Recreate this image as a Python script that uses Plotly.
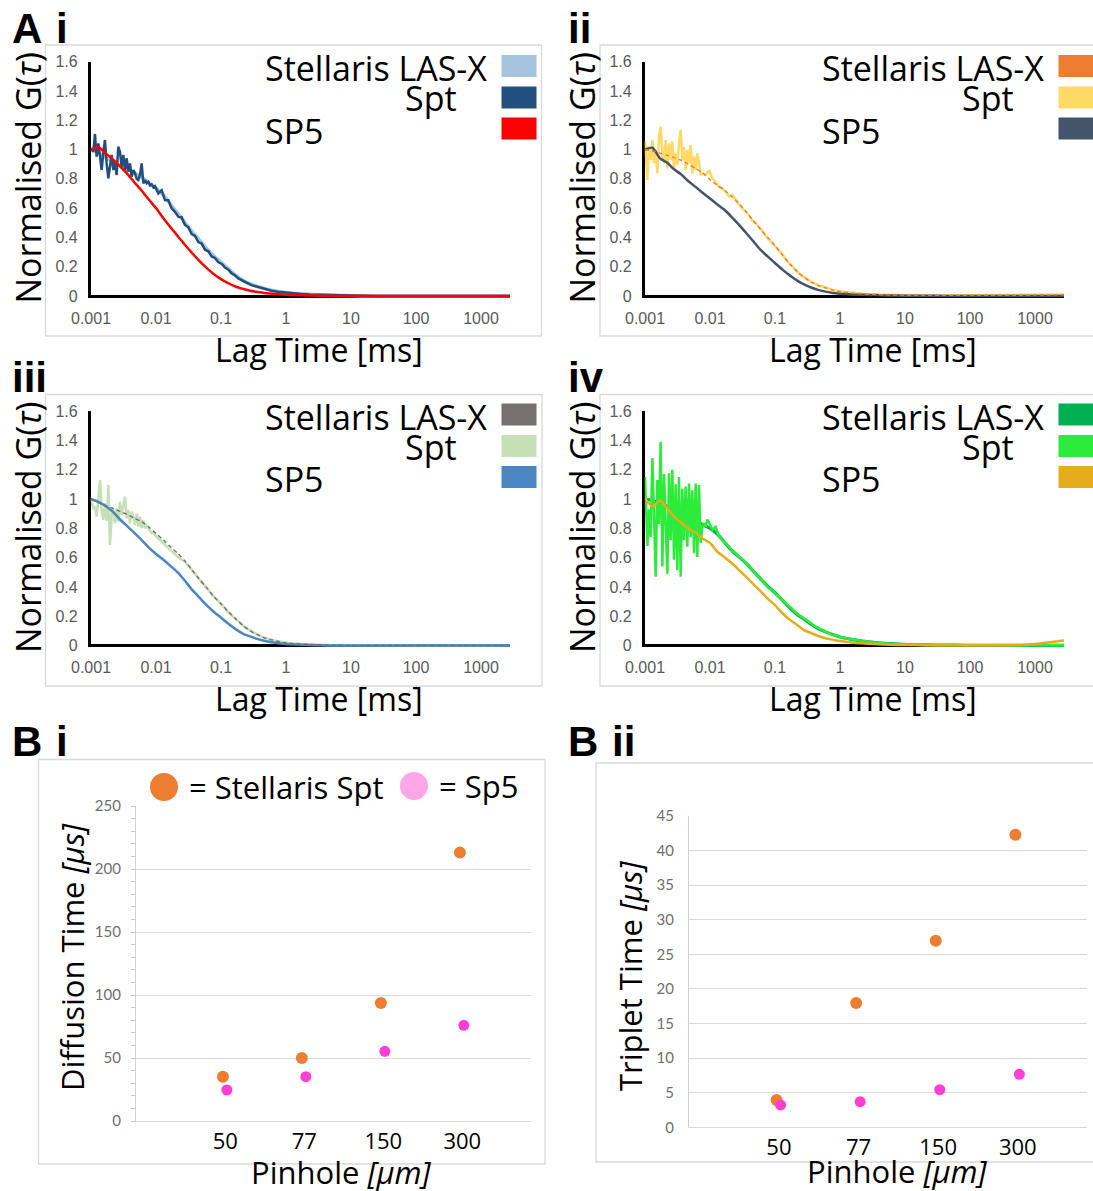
import plotly.graph_objects as go

# ---------------------------------------------------------------------------
# FCS autocorrelation curves (normalised G(tau)) against lag time in ms
# ---------------------------------------------------------------------------
lag_ms = [
    0.001, 0.00109, 0.00115, 0.00122, 0.0013, 0.00138, 0.00146, 0.00155, 0.00164, 0.00174,
    0.00185, 0.00196, 0.00208, 0.00221, 0.00234, 0.00248, 0.00263, 0.00279, 0.00296, 0.00314,
    0.00333, 0.00354, 0.00375, 0.00398, 0.00422, 0.00448, 0.00475, 0.00504, 0.00535, 0.00568,
    0.00602, 0.00638, 0.00677, 0.00718, 0.00762, 0.00808, 0.00857, 0.0091, 0.00966, 0.01086,
    0.01222, 0.01375, 0.0155, 0.0174, 0.0196, 0.0221, 0.0248, 0.0279, 0.0314, 0.0354,
    0.0398, 0.0448, 0.0504, 0.0567, 0.0638, 0.0718, 0.0808, 0.091, 0.103, 0.115,
    0.13, 0.146, 0.165, 0.185, 0.21, 0.234, 0.265, 0.296, 0.35, 0.423,
    0.5, 0.6, 0.75, 0.966, 1.3, 1.74, 2.3, 3.0, 4.5, 6.5,
    10, 15, 25, 40, 70, 120, 200, 350, 600, 1000,
    1700, 2800,
]
lag_ms_coarse = [
    0.001, 0.0013, 0.0017, 0.0022, 0.0028, 0.0036, 0.0046, 0.006, 0.0077, 0.01,
    0.013, 0.017, 0.022, 0.028, 0.036, 0.046, 0.06, 0.077, 0.1, 0.13,
    0.17, 0.22, 0.28, 0.36, 0.46, 0.6, 0.77, 1.0, 1.5, 2.2,
    3.5, 5, 8, 15, 30, 60, 120, 250, 500, 1000,
    1700, 2800,
]

# A i
ai_lasx = [
    1.0, 0.975, 0.945, 0.915, 0.89, 0.865, 0.84, 0.81, 0.775, 0.735,
    0.69, 0.62, 0.56, 0.5, 0.44, 0.385, 0.325, 0.275, 0.23, 0.185,
    0.14, 0.105, 0.082, 0.065, 0.052, 0.04, 0.031, 0.024, 0.016, 0.012,
    0.008, 0.005, 0.003, 0.001, 0.0, 0.0, 0.0, 0.0, 0.0, 0.0,
    0.0, 0.0,
]
ai_spt = [
    1.008, 0.985, 1.106, 0.951, 1.042, 0.939, 0.86, 0.985, 1.065, 0.905,
    0.803, 0.883, 0.963, 0.86, 0.917, 0.826, 1.019, 0.985, 0.883, 0.963,
    0.86, 0.94, 0.849, 0.905, 0.815, 0.86, 0.838, 0.8, 0.792, 0.83,
    0.905, 0.769, 0.792, 0.77, 0.78, 0.755, 0.762, 0.742, 0.75, 0.701,
    0.722, 0.655, 0.654, 0.598, 0.574, 0.54, 0.538, 0.485, 0.47, 0.422,
    0.41, 0.368, 0.358, 0.316, 0.305, 0.27, 0.26, 0.23, 0.219, 0.194,
    0.18, 0.154, 0.14, 0.12, 0.107, 0.092, 0.085, 0.074, 0.064, 0.052,
    0.044, 0.036, 0.029, 0.023, 0.017, 0.014, 0.011, 0.009, 0.006, 0.004,
    0.002, 0.001, 0.0, 0.001, 0.0, 0.001, 0.0, 0.0, 0.001, 0.0,
    0.0, 0.0,
]
ai_sp5 = [
    1.0, 1.015, 0.972, 0.93, 0.885, 0.835, 0.778, 0.72, 0.66, 0.6,
    0.53, 0.465, 0.405, 0.348, 0.293, 0.242, 0.192, 0.15, 0.115, 0.087,
    0.063, 0.048, 0.036, 0.028, 0.021, 0.016, 0.012, 0.009, 0.006, 0.004,
    0.002, 0.001, 0.0, 0.0, 0.0, 0.0, 0.0, 0.0, 0.0, 0.0,
    0.0, 0.0,
]

# A ii
aii_lasx = [
    1.0, 0.99, 0.975, 0.96, 0.945, 0.925, 0.9, 0.87, 0.84, 0.795,
    0.755, 0.72, 0.675, 0.63, 0.575, 0.515, 0.455, 0.4, 0.345, 0.28,
    0.218, 0.165, 0.128, 0.095, 0.072, 0.055, 0.041, 0.031, 0.021, 0.015,
    0.01, 0.008, 0.006, 0.005, 0.004, 0.004, 0.004, 0.004, 0.005, 0.006,
    0.007, 0.008,
]
aii_spt = [
    1.06, 0.792, 1.019, 0.928, 1.065, 0.906, 0.997, 0.837, 1.088, 1.156,
    0.974, 0.906, 1.065, 0.871, 1.042, 0.928, 1.054, 0.86, 0.974, 0.894,
    1.042, 1.133, 0.928, 1.019, 0.86, 0.997, 0.906, 1.031, 0.837, 0.951,
    0.86, 0.974, 0.906, 0.826, 0.837, 0.83, 0.826, 0.84, 0.86, 0.803,
    0.78, 0.746, 0.735, 0.712, 0.678, 0.69, 0.655, 0.625, 0.6, 0.575,
    0.55, 0.515, 0.5, 0.47, 0.445, 0.41, 0.385, 0.36, 0.335, 0.31,
    0.285, 0.25, 0.225, 0.2, 0.18, 0.155, 0.135, 0.125, 0.1, 0.08,
    0.068, 0.058, 0.043, 0.032, 0.024, 0.018, 0.013, 0.01, 0.008, 0.006,
    0.005, 0.004, 0.004, 0.003, 0.004, 0.004, 0.005, 0.005, 0.006, 0.007,
    0.009, 0.011,
]
aii_sp5 = [
    1.0, 1.012, 0.94, 0.91, 0.865, 0.83, 0.785, 0.745, 0.705, 0.665,
    0.625, 0.585, 0.535, 0.485, 0.43, 0.375, 0.315, 0.27, 0.225, 0.18,
    0.14, 0.105, 0.08, 0.058, 0.042, 0.03, 0.021, 0.016, 0.011, 0.008,
    0.006, 0.004, 0.003, 0.002, 0.001, 0.0, 0.0, 0.0, 0.0, 0.0,
    0.0, 0.0,
]

# A iii
aiii_lasx = [
    1.0, 0.975, 0.955, 0.935, 0.915, 0.895, 0.87, 0.845, 0.81, 0.765,
    0.72, 0.67, 0.625, 0.575, 0.515, 0.455, 0.395, 0.335, 0.285, 0.23,
    0.18, 0.135, 0.1, 0.075, 0.052, 0.038, 0.027, 0.018, 0.011, 0.007,
    0.004, 0.002, 0.001, 0.0, 0.0, 0.0, 0.0, 0.0, 0.0, 0.0,
    0.0, 0.0,
]
aiii_spt = [
    1.004, 0.93, 0.95, 0.88, 1.0, 1.13, 0.92, 0.857, 0.97, 0.85,
    1.095, 0.686, 0.89, 0.93, 0.834, 0.936, 0.845, 0.98, 0.89, 0.96,
    1.016, 0.868, 0.925, 0.834, 0.913, 0.879, 0.822, 0.9, 0.811, 0.88,
    0.8, 0.857, 0.8, 0.82, 0.8, 0.79, 0.766, 0.775, 0.754, 0.732,
    0.709, 0.686, 0.663, 0.64, 0.618, 0.6, 0.585, 0.572, 0.545, 0.52,
    0.49, 0.46, 0.435, 0.41, 0.38, 0.35, 0.325, 0.3, 0.275, 0.255,
    0.23, 0.205, 0.185, 0.165, 0.145, 0.125, 0.11, 0.095, 0.078, 0.06,
    0.049, 0.038, 0.029, 0.02, 0.014, 0.01, 0.007, 0.005, 0.003, 0.002,
    0.001, 0.0, 0.0, 0.0, 0.0, 0.0, 0.0, 0.0, 0.0, 0.0,
    0.0, 0.0,
]
aiii_sp5 = [
    1.0, 0.98, 0.95, 0.91, 0.86, 0.815, 0.77, 0.72, 0.67, 0.625,
    0.585, 0.54, 0.495, 0.44, 0.38, 0.33, 0.275, 0.23, 0.19, 0.148,
    0.11, 0.08, 0.062, 0.045, 0.032, 0.022, 0.015, 0.01, 0.006, 0.003,
    0.001, 0.0, 0.0, 0.0, 0.0, 0.0, 0.0, 0.0, 0.0, 0.0,
    0.0, 0.0,
]

# A iv
aiv_lasx = [
    1.0, 0.99, 0.97, 0.95, 0.93, 0.905, 0.88, 0.85, 0.825, 0.8,
    0.76, 0.7, 0.645, 0.605, 0.56, 0.51, 0.455, 0.405, 0.36, 0.31,
    0.255, 0.21, 0.18, 0.145, 0.115, 0.093, 0.075, 0.058, 0.042, 0.03,
    0.02, 0.014, 0.009, 0.005, 0.003, 0.002, 0.001, 0.001, 0.001, 0.001,
    0.001, 0.001,
]
aiv_spt = [
    1.15, 0.68, 0.93, 0.74, 1.28, 0.9, 0.47, 1.13, 0.83, 1.39,
    0.54, 1.17, 0.79, 0.49, 1.175, 0.72, 1.2, 0.585, 1.1, 0.515,
    1.15, 0.47, 1.07, 0.72, 1.085, 0.675, 1.105, 0.74, 1.06, 0.63,
    1.105, 0.605, 1.095, 0.7, 0.81, 0.835, 0.81, 0.86, 0.84, 0.79,
    0.81, 0.745, 0.72, 0.7, 0.675, 0.64, 0.63, 0.605, 0.59, 0.56,
    0.545, 0.515, 0.49, 0.46, 0.44, 0.413, 0.39, 0.379, 0.35, 0.333,
    0.31, 0.288, 0.265, 0.242, 0.225, 0.208, 0.19, 0.174, 0.155, 0.129,
    0.11, 0.094, 0.075, 0.06, 0.048, 0.037, 0.03, 0.023, 0.016, 0.011,
    0.008, 0.005, 0.004, 0.003, 0.004, 0.002, 0.003, 0.002, 0.002, 0.001,
    0.001, 0.001,
]
aiv_sp5 = [
    1.005, 0.95, 0.99, 0.935, 0.88, 0.84, 0.8, 0.77, 0.73, 0.7,
    0.64, 0.6, 0.56, 0.515, 0.468, 0.42, 0.37, 0.32, 0.275, 0.22,
    0.175, 0.14, 0.105, 0.085, 0.065, 0.049, 0.04, 0.031, 0.021, 0.015,
    0.01, 0.006, 0.004, 0.003, 0.002, 0.002, 0.002, 0.002, 0.002, 0.01,
    0.022, 0.034,
]

lag_tick_ms = [0.001, 0.01, 0.1, 1, 10, 100, 1000]
lag_tick_text = ["0.001", "0.01", "0.1", "1", "10", "100", "1000"]
g_ticks = [0, 0.2, 0.4, 0.6, 0.8, 1.0, 1.2, 1.4, 1.6]
g_tick_text = ["0", "0.2", "0.4", "0.6", "0.8", "1", "1.2", "1.4", "1.6"]
legend_labels = ["Stellaris LAS-X", "Spt", "SP5"]

# ---------------------------------------------------------------------------
# Fitted diffusion and triplet times against pinhole size
# ---------------------------------------------------------------------------
pinhole_um = ["50", "77", "150", "300"]
diffusion_us_stellaris_spt = [35.2, 50.0, 93.7, 213.0]
diffusion_us_sp5 = [24.6, 35.2, 55.3, 75.9]
triplet_us_stellaris_spt = [3.95, 17.97, 26.97, 42.3]
triplet_us_sp5 = [3.23, 3.7, 5.44, 7.66]
diffusion_ticks = [0, 50, 100, 150, 200, 250]
triplet_ticks = [0, 5, 10, 15, 20, 25, 30, 35, 40, 45]

# ---------------------------------------------------------------------------
W, H = 1093, 1191
TEXT_FONT = "Open Sans"
TICK_FONT = "Liberation Sans, Arial"
DECADE_PX = 65.0
G_PX = 146.5


def fx(p):
    return p / W


def fy(p):
    return 1 - p / H


def ax_names(k):
    s = "" if k == 1 else str(k)
    return "x" + s, "y" + s, "xaxis" + s, "yaxis" + s


fig = go.Figure()
layout = dict(
    width=W, height=H, autosize=False,
    margin=dict(l=0, r=0, t=0, b=0, pad=0, autoexpand=False),
    paper_bgcolor="white", plot_bgcolor="rgba(0,0,0,0)", showlegend=False,
)
shapes = []
annotations = []


def text(x, y, s, size, xanchor="left", angle=0, family=TEXT_FONT, color="#000000"):
    annotations.append(dict(
        x=fx(x), y=fy(y), xref="paper", yref="paper", text=s, showarrow=False,
        xanchor=xanchor, yanchor="middle", textangle=angle, borderpad=0,
        font=dict(family=family, size=size, color=color),
    ))


def frame(x0, y0, x1, y1):
    shapes.append(dict(type="rect", xref="paper", yref="paper",
                       x0=fx(x0), x1=fx(x1), y0=fy(y1), y1=fy(y0),
                       line=dict(color="#D9D9D9", width=1.3),
                       fillcolor="rgba(0,0,0,0)", layer="below"))


def swatch(x0, y0, x1, y1, color, kind="rect"):
    shapes.append(dict(type=kind, xref="paper", yref="paper",
                       x0=fx(x0), x1=fx(x1), y0=fy(y1), y1=fy(y0),
                       line=dict(width=0), fillcolor=color, layer="above"))


# Panel A: four correlation plots
# each series: (lag, values, colour, width, drawn as thin broken overlay)
panels_a = [
    dict(ax_x=91, zero=296, frame=(45.5, 45, 541.5, 336), leg_dx=0, leg_dy=0,
         series=[
             (lag_ms_coarse, ai_lasx, "#A7C4DF", 3.6, False),
             (lag_ms, ai_spt, "#22507E", 2.5, False),
             (lag_ms_coarse, ai_sp5, "#FF0000", 2.5, False),
         ]),
    dict(ax_x=645, zero=296, frame=(600, 45, 1110, 336), leg_dx=557, leg_dy=0,
         series=[
             (lag_ms_coarse, aii_lasx, "#ED7D31", 2.5, True),
             (lag_ms, aii_spt, "#FFD966", 2.5, False),
             (lag_ms_coarse, aii_sp5, "#44546A", 2.5, False),
         ]),
    dict(ax_x=91, zero=645.5, frame=(45.5, 394.5, 542, 686), leg_dx=0, leg_dy=348.5,
         series=[
             (lag_ms_coarse, aiii_lasx, "#767171", 2.5, True),
             (lag_ms, aiii_spt, "#C5E0B4", 2.5, False),
             (lag_ms_coarse, aiii_sp5, "#4A86C2", 2.5, False),
         ]),
    dict(ax_x=645, zero=645.5, frame=(600, 394.5, 1110, 686), leg_dx=557, leg_dy=348.5,
         series=[
             (lag_ms_coarse, aiv_lasx, "#00B050", 3.2, False),
             (lag_ms, aiv_spt, "#2CEB3A", 2.5, False),
             (lag_ms_coarse, aiv_sp5, "#E5AC1C", 2.5, False),
         ]),
]


def curve_line(lag, color, width, dash="solid"):
    # the coarse (smooth) curves are drawn as splines, the dense noisy ones straight
    if lag is lag_ms_coarse:
        return dict(color=color, width=width, dash=dash, shape="spline", smoothing=0.7)
    return dict(color=color, width=width, dash=dash)


for k, p in enumerate(panels_a, start=1):
    xr, yr, xk, yk = ax_names(k)
    left = p["ax_x"] - 0.005 * DECADE_PX
    layout[xk] = dict(
        type="log", domain=[fx(left), fx(left + 6.457 * DECADE_PX)], range=[-3.005, 3.452],
        anchor=yr, showgrid=False, zeroline=False, showline=False, ticks="",
        tickmode="array", tickvals=lag_tick_ms, ticktext=lag_tick_text,
        tickfont=dict(family=TICK_FONT, size=16, color="#595959"),
        ticklabelstandoff=9, fixedrange=True, automargin=False,
    )
    z = p["zero"]
    layout[yk] = dict(
        domain=[fy(z + 0.012 * G_PX), fy(z - 1.6 * G_PX)], range=[-0.012, 1.6],
        anchor=xr, showgrid=False, zeroline=True, zerolinecolor="#000000", zerolinewidth=2.5,
        showline=True, linecolor="#000000", linewidth=2.5, layer="below traces",
        ticks="", tickmode="array", tickvals=g_ticks, ticktext=g_tick_text,
        tickfont=dict(family=TICK_FONT, size=16, color="#595959"),
        ticklabelstandoff=7, fixedrange=True, automargin=False,
    )

    overlays = []
    for lag, vals, color, width, overlay in p["series"]:
        if overlay:
            overlays.append((lag, vals, color))
            continue
        fig.add_trace(go.Scatter(x=lag, y=vals, mode="lines", xaxis=xr, yaxis=yr,
                                 line=curve_line(lag, color, width), hoverinfo="skip"))
    # the LAS-X trace shows through the noisy Spt trace as a thin broken line
    for lag, vals, color in overlays:
        fig.add_trace(go.Scatter(x=lag, y=vals, mode="lines", xaxis=xr, yaxis=yr,
                                 line=curve_line(lag, color, 1.4, "4px,3px"),
                                 hoverinfo="skip"))

    frame(*p["frame"])
    dx, dy = p["leg_dx"], p["leg_dy"]
    text(264 + dx, 68 + dy, legend_labels[0], 34)
    text(404 + dx, 98.5 + dy, legend_labels[1], 34)
    text(264 + dx, 130.5 + dy, legend_labels[2], 34)
    colors = [s[2] for s in p["series"]]
    for i, (t0, t1) in enumerate([(55, 77), (86.5, 108.5), (117.5, 139.5)]):
        swatch(501.5 + dx, t0 + dy, 536.5 + dx, t1 + dy, colors[i])

    text(p["ax_x"] + 228, z + 53, "Lag Time [ms]", 32, xanchor="center")
    text(p["ax_x"] - 63, z - 118.5, "Normalised G(<i>τ</i>)", 34, xanchor="center", angle=-90)

# panel tags: (x, y, text)
TAG_FONT = "Liberation Sans, Arial"
panel_tags = [
    (11, 29, "A"), (55, 29, "i"), (567, 29, "ii"),
    (11, 377, "iii"), (567, 377, "iv"),
    (11, 741, "B"), (55, 741, "i"), (567, 741, "B"), (611, 741, "ii"),
]
for tx, ty, tt in panel_tags:
    text(tx, ty, "<b>" + tt + "</b>", 42, family=TAG_FONT)

# Panel B: diffusion time and triplet time
cat_pos = [i + 1 for i in range(len(pinhole_um))]
sp5_nudge = 0.05
panels_b = [
    dict(xdom=(136, 531), ydom=(806, 1121), yrange=[0, 250], ticks=diffusion_ticks,
         spt=diffusion_us_stellaris_spt, sp5=diffusion_us_sp5, minor=True,
         frame=(38.5, 759.5, 545, 1164), ytitle="Diffusion Time <i>[μs]</i>",
         ytitle_xy=(72, 957), xtitle_xy=(341, 1172)),
    dict(xdom=(689, 1087), ydom=(816, 1127.3), yrange=[0, 45], ticks=triplet_ticks,
         spt=triplet_us_stellaris_spt, sp5=triplet_us_sp5, minor=False,
         frame=(596, 763, 1110, 1162), ytitle="Triplet Time <i>[μs]</i>",
         ytitle_xy=(630, 976), xtitle_xy=(897, 1171)),
]

for j, b in enumerate(panels_b, start=5):
    xr, yr, xk, yk = ax_names(j)
    layout[xk] = dict(
        domain=[fx(b["xdom"][0]), fx(b["xdom"][1])], range=[-0.1, 4.9], anchor=yr,
        showgrid=False, zeroline=False, showline=True, linecolor="#D9D9D9", linewidth=1.3,
        ticks="", tickmode="array", tickvals=[c + 0.03 for c in cat_pos], ticktext=pinhole_um,
        tickfont=dict(family=TEXT_FONT, size=22, color="#000000"), ticklabelstandoff=0,
        fixedrange=True, automargin=False,
    )
    ya = dict(
        domain=[fy(b["ydom"][1]), fy(b["ydom"][0])], range=b["yrange"], anchor=xr,
        showgrid=True, gridcolor="#D9D9D9", gridwidth=1.3, zeroline=False,
        showline=True, linecolor="#D0D0D0", linewidth=1.3,
        ticks="", tickmode="array", tickvals=b["ticks"], ticktext=[str(t) for t in b["ticks"]],
        tickfont=dict(family="Lato, Liberation Sans", size=15, color="#6F6F6F"),
        ticklabelstandoff=11, fixedrange=True, automargin=False,
    )
    if b["minor"]:
        ya["minor"] = dict(dtick=10, tick0=0, ticks="outside", ticklen=4,
                           tickcolor="#C8C8C8", tickwidth=1, showgrid=False)
    layout[yk] = ya

    fig.add_trace(go.Scatter(x=cat_pos, y=b["spt"], mode="markers", xaxis=xr, yaxis=yr,
                             marker=dict(color="#ED7D31", size=12, line=dict(width=0)),
                             hoverinfo="skip"))
    fig.add_trace(go.Scatter(x=[c + sp5_nudge for c in cat_pos], y=b["sp5"], mode="markers",
                             xaxis=xr, yaxis=yr,
                             marker=dict(color="#FF3FD2", size=11, line=dict(width=0)),
                             hoverinfo="skip"))

    frame(*b["frame"])
    text(b["ytitle_xy"][0], b["ytitle_xy"][1], b["ytitle"], 31, xanchor="center", angle=-90)
    text(b["xtitle_xy"][0], b["xtitle_xy"][1], "Pinhole <i>[μm]</i>", 31, xanchor="center")

# key for panel B i
swatch(150, 773, 178, 801, "#ED7D31", kind="circle")
text(188, 787, "= Stellaris Spt", 31)
swatch(400, 772, 428, 800, "#FFA6E8", kind="circle")
text(438, 786, "= Sp5", 31)

layout["shapes"] = shapes
layout["annotations"] = annotations
fig.update_layout(**layout)
fig.write_html("out.html", post_script="document.body.style.margin='0';document.body.style.overflow='hidden';")
